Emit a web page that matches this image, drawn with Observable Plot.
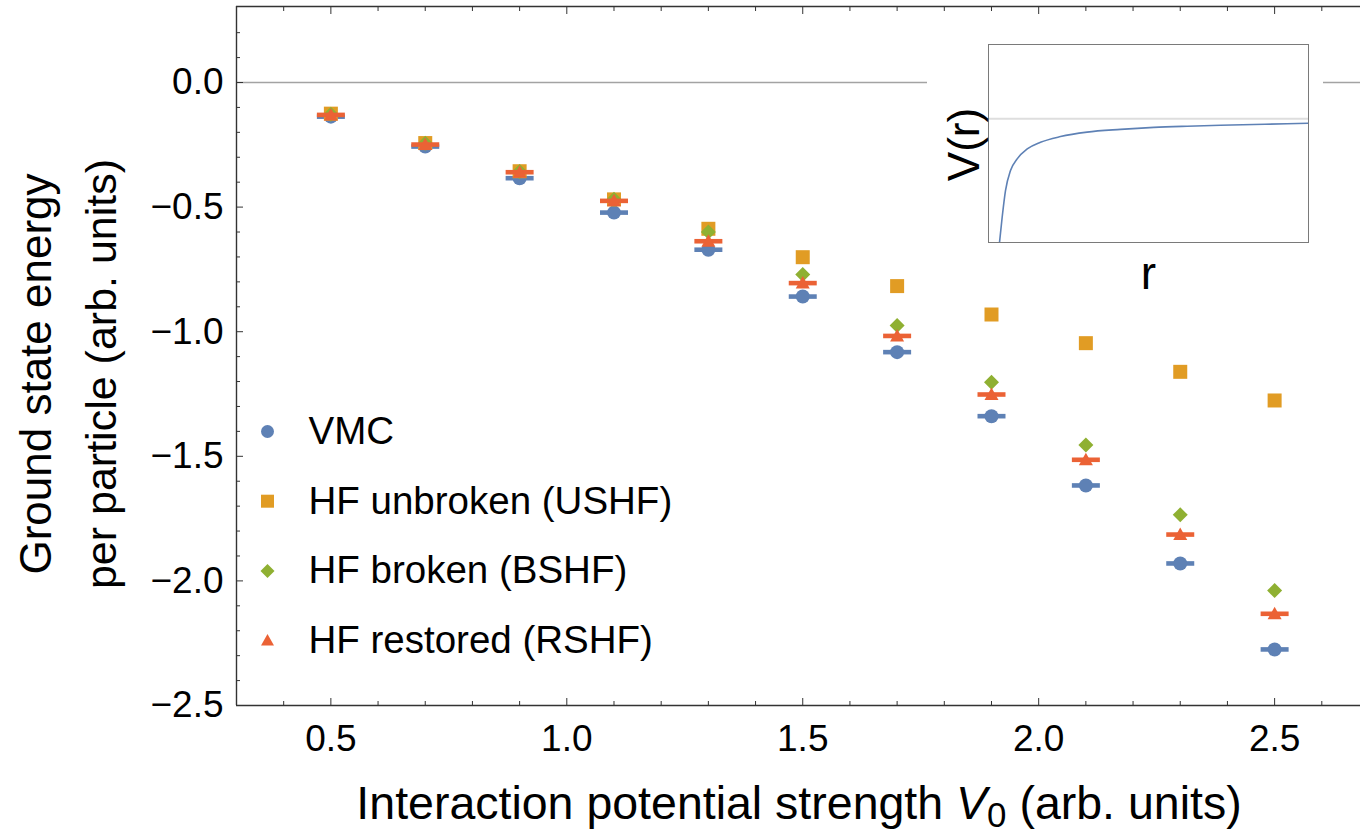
<!DOCTYPE html>
<html>
<head>
<meta charset="utf-8">
<script src="https://cdn.jsdelivr.net/npm/d3@7"></script>
<script src="https://cdn.jsdelivr.net/npm/@observablehq/plot@0.6"></script>
<style>
  html, body { margin: 0; padding: 0; background: #fff; overflow: hidden; }
  #wrap { position: relative; width: 1360px; height: 832px; font-family: "Liberation Sans", Arial, Helvetica, sans-serif; color: #000; }
  #main { position: absolute; left: 0; top: 0; }
  #inset { position: absolute; left: 927px; top: 30px; background: #fff; }
  #xlabel { position: absolute; left: 799px; top: 780px; transform: translateX(-50%); white-space: nowrap;
            font-size: 46.5px; line-height: 46px; }
  #xlabel .sub { font-size: 0.75em; vertical-align: -0.22em; line-height: 0; }
</style>
</head>
<body>
<div id="wrap">
  <div id="main"></div>
  <div id="inset"></div>
  <div id="xlabel">Interaction potential strength <i>V</i><span class="sub">0</span> (arb. units)</div>
</div>
<script>
// Interaction strength V0 (arb. units)
const v0 = [0.5, 0.7, 0.9, 1.1, 1.3, 1.5, 1.7, 1.9, 2.1, 2.3, 2.5];

// Ground state energy per particle for each method
const vmc  = [-0.137, -0.257, -0.384, -0.522, -0.671, -0.859, -1.082, -1.339, -1.617, -1.930, -2.275];
const ushf = [-0.125, -0.243, -0.356, -0.469, -0.587, -0.701, -0.817, -0.931, -1.046, -1.161, -1.276];
const bshf = [-0.127, -0.244, -0.357, -0.468, -0.600, -0.770, -0.975, -1.203, -1.455, -1.735, -2.039];
const rshf = [-0.130, -0.249, -0.360, -0.475, -0.637, -0.805, -1.017, -1.252, -1.514, -1.814, -2.132];

// Series names as shown in the legend
const seriesNames = ["VMC", "HF unbroken (USHF)", "HF broken (BSHF)", "HF restored (RSHF)"];

// Axis ticks
const xMajor = [0.5, 1.0, 1.5, 2.0, 2.5];
const xMinor = [0.4, 0.6, 0.7, 0.8, 0.9, 1.1, 1.2, 1.3, 1.4, 1.6, 1.7, 1.8, 1.9, 2.1, 2.2, 2.3, 2.4, 2.6];
const yMajor = [0.0, -0.5, -1.0, -1.5, -2.0, -2.5];
const yMinor = [0.2, 0.1, -0.1, -0.2, -0.3, -0.4, -0.6, -0.7, -0.8, -0.9, -1.1, -1.2, -1.3, -1.4,
                -1.6, -1.7, -1.8, -1.9, -2.1, -2.2, -2.3, -2.4];

// Inset: sketch of the attractive potential V(r)
const insetR = [0.344, 0.427, 0.531, 0.688, 0.896, 1.21, 1.625, 2.25, 3.08, 4.125, 5.17, 6.21, 7.25, 8.29, 9.33, 10];
const insetV = [-5.0, -3.98, -2.90, -2.09, -1.62, -1.22, -0.95, -0.72, -0.54, -0.43, -0.35, -0.30, -0.26, -0.23, -0.205, -0.18];

const colors = {vmc: "#5E81B5", ushf: "#E19C24", bshf: "#8FB032", rshf: "#EB6235"};
const frameColor = "#333";
const fmt = d3.format(".1f");

// Marker shapes (pixel sized)
const capSymbol = {draw(ctx) { ctx.rect(-14, -2.3, 28, 4.6); }};
const squareSymbol = {draw(ctx) { ctx.rect(-7, -7, 14, 14); }};
const diamondSymbol = {draw(ctx) { ctx.moveTo(0, -7.5); ctx.lineTo(7.5, 0); ctx.lineTo(0, 7.5); ctx.lineTo(-7.5, 0); ctx.closePath(); }};
const triangleSymbol = {draw(ctx) { ctx.moveTo(0, -7); ctx.lineTo(7, 5.5); ctx.lineTo(-7, 5.5); ctx.closePath(); }};
const legendSquare = {draw(ctx) { ctx.rect(-6.5, -6.5, 13, 13); }};
const legendDiamond = {draw(ctx) { ctx.moveTo(0, -7); ctx.lineTo(7, 0); ctx.lineTo(0, 7); ctx.lineTo(-7, 0); ctx.closePath(); }};
const legendTriangle = {draw(ctx) { ctx.moveTo(0, -6.5); ctx.lineTo(6.5, 5); ctx.lineTo(-6.5, 5); ctx.closePath(); }};

const rows = v0.map((v, i) => ({v0: v, vmc: vmc[i], ushf: ushf[i], bshf: bshf[i], rshf: rshf[i]}));

const legendItems = [
  {label: seriesNames[0], color: colors.vmc, symbol: "circle", r: 6.5},
  {label: seriesNames[1], color: colors.ushf, symbol: legendSquare, r: 6.5},
  {label: seriesNames[2], color: colors.bshf, symbol: legendDiamond, r: 6.5},
  {label: seriesNames[3], color: colors.rshf, symbol: legendTriangle, r: 6.5}
];
const legendTop = 425, legendStep = 69.7;

const xDomain = [0.3, 2.682];
const yDomain = [-2.5, 0.305];

const main = Plot.plot({
  width: 1360,
  height: 770,
  marginLeft: 236,
  marginRight: 0,
  marginTop: 6,
  marginBottom: 65,
  x: {domain: xDomain},
  y: {domain: yDomain},
  style: {fontFamily: "'Liberation Sans', Arial, Helvetica, sans-serif", color: "#000", background: "transparent", overflow: "visible"},
  marks: [
    // zero reference line
    Plot.ruleY([0], {stroke: "#a3a3a3", strokeWidth: 1.6}),

    // frame sides (the right side lies outside the page)
    Plot.ruleX([xDomain[0]], {stroke: frameColor, strokeWidth: 1.4}),
    Plot.ruleY([yDomain[0]], {stroke: frameColor, strokeWidth: 1.4}),
    Plot.ruleY([yDomain[1]], {stroke: frameColor, strokeWidth: 1.4}),

    // inward ticks
    Plot.axisX(xMajor, {anchor: "bottom", tickSize: -7, fill: "none", stroke: frameColor, label: null}),
    Plot.axisX(xMinor, {anchor: "bottom", tickSize: -4, fill: "none", stroke: frameColor, label: null}),
    Plot.axisX(xMajor, {anchor: "top", tickSize: -7, fill: "none", stroke: frameColor, label: null}),
    Plot.axisX(xMinor, {anchor: "top", tickSize: -4, fill: "none", stroke: frameColor, label: null}),
    Plot.axisY(yMajor, {anchor: "left", tickSize: -7, fill: "none", stroke: frameColor, label: null}),
    Plot.axisY(yMinor, {anchor: "left", tickSize: -4, fill: "none", stroke: frameColor, label: null}),

    // tick labels
    Plot.axisX(xMajor, {anchor: "bottom", tickSize: 0, tickPadding: 19, tickFormat: fmt, fontSize: 37, label: null}),
    Plot.axisY(yMajor, {anchor: "left", tickSize: 0, tickPadding: 13, tickFormat: fmt, fontSize: 37, label: null}),

    // y-axis title (two lines)
    Plot.text(["Ground state energy"], {frameAnchor: "left", text: d => d, rotate: -90, dx: -186, dy: 18,
      lineAnchor: "bottom", textAnchor: "middle", fontSize: 44}),
    Plot.text(["per particle (arb. units)"], {frameAnchor: "left", text: d => d, rotate: -90, dx: -121, dy: 18,
      lineAnchor: "bottom", textAnchor: "middle", fontSize: 43}),

    // VMC: error caps + circles
    Plot.dot(rows, {x: "v0", y: "vmc", symbol: capSymbol, fill: colors.vmc, stroke: "none"}),
    Plot.dot(rows, {x: "v0", y: "vmc", r: 7, fill: colors.vmc, stroke: "none"}),
    // unbroken-symmetry HF: squares
    Plot.dot(rows, {x: "v0", y: "ushf", symbol: squareSymbol, fill: colors.ushf, stroke: "none"}),
    // broken-symmetry HF: diamonds
    Plot.dot(rows, {x: "v0", y: "bshf", symbol: diamondSymbol, fill: colors.bshf, stroke: "none"}),
    // restored-symmetry HF: error caps + triangles
    Plot.dot(rows, {x: "v0", y: "rshf", symbol: capSymbol, fill: colors.rshf, stroke: "none"}),
    Plot.dot(rows, {x: "v0", y: "rshf", symbol: triangleSymbol, fill: colors.rshf, stroke: "none"}),

    // legend
    ...legendItems.flatMap((d, i) => [
      Plot.dot([d], {frameAnchor: "top-left", dx: 31, dy: legendTop + legendStep * i,
        symbol: d.symbol, r: d.r, fill: d.color, stroke: "none"}),
      Plot.text([d], {frameAnchor: "top-left", dx: 72, dy: legendTop + legendStep * i, text: "label",
        textAnchor: "start", lineAnchor: "middle", fontSize: 38.5, fill: "#000"})
    ])
  ]
});
document.getElementById("main").append(main);

const insetRows = insetR.map((r, i) => ({r, v: insetV[i]}));

const inset = Plot.plot({
  width: 396,
  height: 270,
  marginLeft: 61,
  marginRight: 15,
  marginTop: 14,
  marginBottom: 58,
  x: {domain: [0, 10], axis: null},
  y: {domain: [-5, 3], axis: null},
  style: {fontFamily: "'Liberation Sans', Arial, Helvetica, sans-serif", color: "#000", background: "#fff", overflow: "visible"},
  marks: [
    Plot.ruleY([0], {stroke: "#dedede", strokeWidth: 2}),
    Plot.line(insetRows, {x: "r", y: "v", stroke: colors.vmc, strokeWidth: 1.6, curve: "monotone-x", clip: true}),
    Plot.frame({stroke: "#7a7a7a", strokeWidth: 1}),
    Plot.text(["V(r)"], {frameAnchor: "left", text: d => d, rotate: -90, dx: -10, dy: 1,
      lineAnchor: "bottom", textAnchor: "middle", fontSize: 44}),
    Plot.text(["r"], {frameAnchor: "bottom", text: d => d, dy: 46, lineAnchor: "bottom", fontSize: 46})
  ]
});
document.getElementById("inset").append(inset);
</script>
</body>
</html>
